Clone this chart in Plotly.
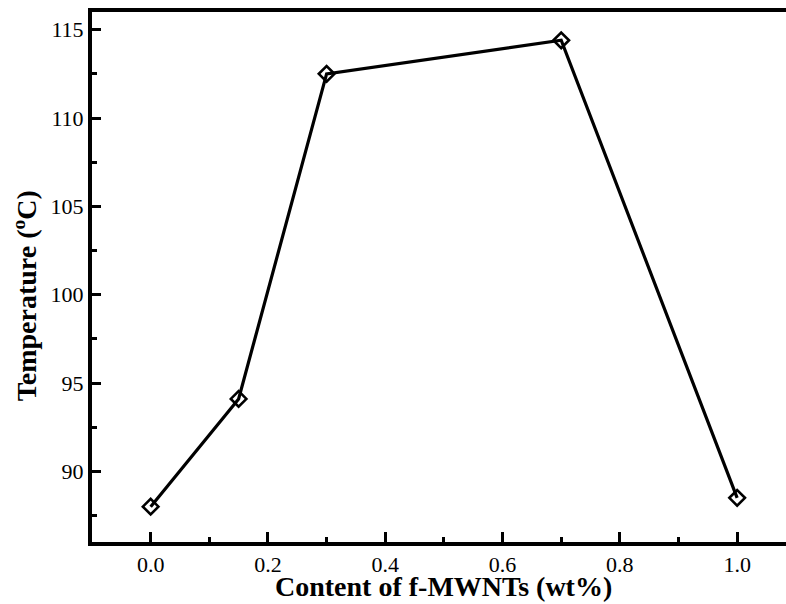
import plotly.graph_objects as go

content = [0.0, 0.15, 0.3, 0.7, 1.0]
temperature = [88.0, 94.1, 112.5, 114.4, 88.5]

x_ticks = [0.0, 0.2, 0.4, 0.6, 0.8, 1.0]
x_ticklabels = ["0.0", "0.2", "0.4", "0.6", "0.8", "1.0"]
y_ticks = [90, 95, 100, 105, 110, 115]
y_ticklabels = ["90", "95", "100", "105", "110", "115"]

FONT = '"Liberation Serif", "Times New Roman", serif'

fig = go.Figure()
fig.add_trace(go.Scatter(
    x=content, y=temperature, mode="lines+markers",
    line=dict(color="black", width=3.2),
    marker=dict(symbol="diamond-open", size=12, color="black",
                line=dict(color="black", width=2.6)),
    showlegend=False,
))

fig.update_layout(
    width=786, height=604,
    paper_bgcolor="white", plot_bgcolor="white",
    margin=dict(l=92, r=0, t=12, b=62),
    font=dict(family=FONT, color="black", size=22),
    xaxis=dict(
        range=[-0.1, 1.0833], tickmode="array", tickvals=x_ticks,
        ticktext=x_ticklabels, ticks="inside", ticklen=10, tickwidth=3,
        tickcolor="black", showline=True, linewidth=4, linecolor="black",
        mirror=True, showgrid=False, zeroline=False,
        minor=dict(ticks="inside", ticklen=5, tickwidth=3, tickcolor="black",
                   dtick=0.1, tick0=0, showgrid=False),
        tickfont=dict(size=22, family=FONT),
    ),
    yaxis=dict(
        range=[86, 116], tickmode="array", tickvals=y_ticks,
        ticktext=y_ticklabels, ticks="inside", ticklen=9, tickwidth=3,
        tickcolor="black", showline=True, linewidth=4, linecolor="black",
        mirror=False, showgrid=False, zeroline=False,
        minor=dict(ticks="inside", ticklen=5, tickwidth=3, tickcolor="black",
                   dtick=2.5, tick0=0, showgrid=False),
        tickfont=dict(size=22, family=FONT),
    ),
    annotations=[
        dict(text="<b>Content of f-MWNTs (wt%)</b>", x=0.5, xref="x",
             y=-0.0836, yref="paper", yanchor="middle", xanchor="center",
             showarrow=False, font=dict(size=28, family=FONT)),
        dict(text="<b>Temperature (<sup>o</sup>C)</b>", x=-0.0965, xref="paper",
             y=0.4636, yref="paper", textangle=-90, xanchor="center",
             yanchor="middle", showarrow=False,
             font=dict(size=28, family=FONT)),
    ],
)

fig.write_html(
    "out.html",
    config={"displayModeBar": False},
    post_script="document.body.style.margin='0';"
                "document.documentElement.style.overflow='hidden';",
)
